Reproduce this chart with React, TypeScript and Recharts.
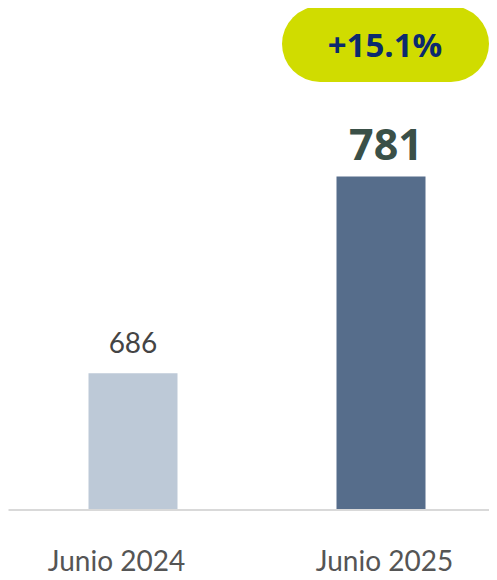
import { BarChart, Bar, XAxis, YAxis, Cell, LabelList } from "recharts"

const categories = ["Junio 2024", "Junio 2025"]
const values = [686, 781]
const barColors = ["#bdc9d7", "#566d8b"]
const growthLabel = "+15.1%"

const data = categories.map((name, i) => ({ name, value: values[i] }))

// the source nudges its category labels a little off the bar centres
const tickShift = [-16, 4]

function CategoryTick(props: any) {
  const { x, y, payload, index } = props
  return (
    <text
      x={x + (tickShift[index] ?? 0)}
      y={y + 53}
      textAnchor="middle"
      fill="#555555"
      fontFamily="Lato, sans-serif"
      fontSize={28}
    >
      {payload.value}
    </text>
  )
}

function ValueLabel(props: any) {
  const { x, y, width, value, index } = props
  const cx = x + width / 2
  if (index === 0) {
    return (
      <text x={cx} y={y - 20} textAnchor="middle" fill="#444444" fontFamily="Lato, sans-serif" fontSize={28}>
        {value}
      </text>
    )
  }
  return (
    <g>
      <text
        x={cx + 5}
        y={y - 17}
        textAnchor="middle"
        fill="#3a5048"
        fontFamily="'Open Sans', sans-serif"
        fontWeight="bold"
        fontSize={43}
      >
        {value}
      </text>
      <rect x={cx - 99} y={6} width={207} height={76} rx={38} fill="#d0dc00" />
      <text
        x={cx + 4}
        y={57}
        textAnchor="middle"
        fill="#0b2a6e"
        fontFamily="'Open Sans', sans-serif"
        fontWeight="bold"
        fontSize={33}
      >
        {growthLabel}
      </text>
    </g>
  )
}

export default function App() {
  return (
    <div style={{ margin: -8, width: 497, height: 580, overflow: "hidden", background: "#fff" }}>
      <BarChart
        width={497}
        height={580}
        data={data}
        margin={{ top: 100, right: -7.5, bottom: 0, left: 8.5 }}
        barSize={89}
      >
        <XAxis
          dataKey="name"
          height={70}
          axisLine={{ stroke: "#d9d9d9", strokeWidth: 2 }}
          tickLine={false}
          tick={<CategoryTick />}
        />
        <YAxis hide domain={[620, 818]} allowDataOverflow />
        <Bar dataKey="value" isAnimationActive={false}>
          {data.map((d, i) => (
            <Cell key={d.name} fill={barColors[i]} />
          ))}
          <LabelList dataKey="value" content={<ValueLabel />} />
        </Bar>
      </BarChart>
    </div>
  )
}
